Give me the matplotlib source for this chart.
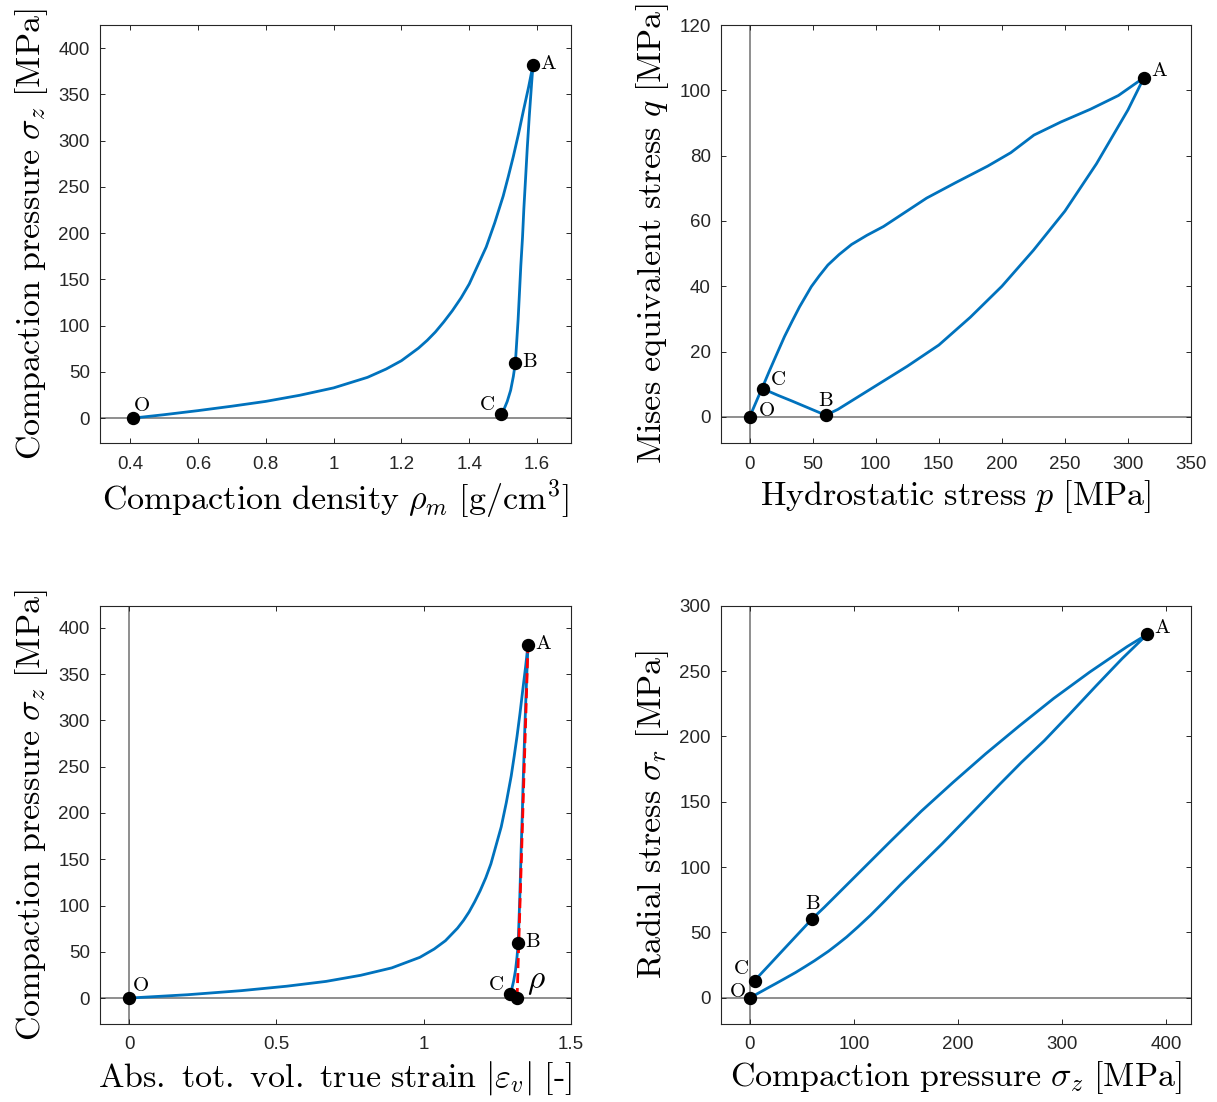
import numpy as np
import matplotlib
matplotlib.use('Agg')
import matplotlib.pyplot as plt

plt.rcParams['font.family'] = ['Liberation Sans', 'DejaVu Sans']
plt.rcParams['mathtext.fontset'] = 'cm'

# loading branch O -> A
sigma_z_load = [0, 3.6, 8, 12.8, 18, 24.6, 32.6, 44, 53, 62, 75.5, 84, 93, 104, 116, 130, 145,
                185, 211, 240, 261, 283, 307, 333, 358, 382]
sigma_r_load = [0, 1.57, 3.5, 5.6, 7.9, 10.75, 14.3, 19.4, 23.8, 28.3, 35.6, 40.8, 46.5, 54.3,
                63.2, 74.4, 86.7, 118, 139.3, 163.2, 180.1, 196.7, 216.7, 238.8, 259.6, 278.1]
rho_load = [0.41, 0.5, 0.6, 0.7, 0.8, 0.9, 1.0, 1.1, 1.155, 1.2, 1.25, 1.276, 1.3, 1.325, 1.35,
            1.376, 1.4, 1.45, 1.475, 1.5, 1.515, 1.53, 1.545, 1.56, 1.575, 1.588]

# unloading branch A -> B -> C
sigma_z_unload = [382, 362.7, 326.7, 292, 259, 226.7, 195.3, 164.7, 135.3, 106.3, 83.1, 71.5, 60,
                  45, 30, 18, 10, 4.6]
sigma_r_unload = [278.1, 268.7, 249.2, 229, 208, 186.7, 164.8, 142.7, 119.8, 96.8, 78.4, 69.2, 60.5,
                  47.7, 34.9, 24.6, 17.8, 13.2]
rho_unload = [1.588, 1.584, 1.577, 1.571, 1.566, 1.561, 1.557, 1.552, 1.548, 1.544, 1.540, 1.538,
              1.536, 1.530, 1.522, 1.512, 1.503, 1.493]

rho_0 = 0.41
eps_rho = 1.317  # strain at the rho point on the zero-pressure axis

BLUE = '#0072BD'
FRAME = '#262626'
ZERO = '#707070'


def derived(sz, sr, rho):
    sz = np.asarray(sz)
    sr = np.asarray(sr)
    p = (sz + 2 * sr) / 3
    q = np.abs(sz - sr)
    eps = np.log(np.asarray(rho) / rho_0)
    return p, q, eps


p_l, q_l, eps_l = derived(sigma_z_load, sigma_r_load, rho_load)
p_u, q_u, eps_u = derived(sigma_z_unload, sigma_r_unload, rho_unload)

# marked states in the unloading arrays
iA, iB, iC = 0, 12, len(sigma_z_unload) - 1


def style_axes(ax, xlim, ylim, xticks, yticks):
    ax.set_xlim(xlim)
    ax.set_ylim(ylim)
    ax.set_xticks(xticks)
    ax.set_yticks(yticks)
    ax.set_xticklabels([f'{v:g}' for v in xticks])
    ax.set_yticklabels([f'{v:g}' for v in yticks])
    ax.tick_params(direction='in', length=3.6, width=0.7, colors=FRAME,
                   labelsize=13.5, top=True, right=True)
    ax.tick_params(axis='x', pad=9)
    ax.tick_params(axis='y', pad=7)
    for s in ax.spines.values():
        s.set_color(FRAME)
        s.set_linewidth(0.8)
    ax.axhline(0, color=ZERO, lw=1.1, zorder=1)
    if xlim[0] < 0:
        ax.axvline(0, color=ZERO, lw=1.1, zorder=1)


def mark(ax, x, y, text, dx, dy, ha='left', va='bottom', fs=15):
    ax.plot([x], [y], 'o', color='k', ms=8.6, zorder=5)
    ax.annotate(text, (x, y), xytext=(dx, dy), textcoords='offset points',
                ha=ha, va=va, fontsize=fs, zorder=6)


fig = plt.figure(figsize=(12.17, 11.02), dpi=100)
ax1 = fig.add_axes([0.0818, 0.598, 0.3874, 0.3793])
ax2 = fig.add_axes([0.5922, 0.598, 0.3864, 0.3793])
ax3 = fig.add_axes([0.0818, 0.0708, 0.3874, 0.3796])
ax4 = fig.add_axes([0.5922, 0.0708, 0.3864, 0.3796])

lab_fs = 24.5
ypad = 6

# density - pressure
ax1.plot(rho_load, sigma_z_load, color=BLUE, lw=2, zorder=3)
ax1.plot(rho_unload, sigma_z_unload, color=BLUE, lw=2, zorder=3)
style_axes(ax1, (0.31, 1.70), (-27, 425), [0.4, 0.6, 0.8, 1, 1.2, 1.4, 1.6], list(range(0, 401, 50)))
mark(ax1, rho_load[0], 0, r'$\mathrm{O}$', 0, 2, ha='left')
mark(ax1, rho_unload[iA], sigma_z_unload[iA], r'$\mathrm{A}$', 5, -6)
mark(ax1, rho_unload[iB], sigma_z_unload[iB], r'$\mathrm{B}$', 5, -6)
mark(ax1, rho_unload[iC], sigma_z_unload[iC], r'$\mathrm{C}$', -4, 0, ha='right')
ax1.set_xlabel(r'$\mathrm{Compaction\ density}\ \rho_m\ \mathrm{[g/cm^3]}$', fontsize=lab_fs)
ax1.set_ylabel(r'$\mathrm{Compaction\ pressure}\ \sigma_z\ \mathrm{[MPa]}$', fontsize=lab_fs, labelpad=ypad)

# p - q
ax2.plot(p_l, q_l, color=BLUE, lw=2, zorder=3)
ax2.plot(p_u, q_u, color=BLUE, lw=2, zorder=3)
style_axes(ax2, (-23, 350), (-8, 120), list(range(0, 351, 50)), list(range(0, 121, 20)))
mark(ax2, 0, 0, r'$\mathrm{O}$', 6, -2)
mark(ax2, p_u[iA], q_u[iA], r'$\mathrm{A}$', 5, -2)
mark(ax2, p_u[iB], q_u[iB], r'$\mathrm{B}$', 0, 4, ha='center')
mark(ax2, p_u[iC], q_u[iC], r'$\mathrm{C}$', 5, 0)
ax2.set_xlabel(r'$\mathrm{Hydrostatic\ stress}\ p\ \mathrm{[MPa]}$', fontsize=lab_fs)
ax2.set_ylabel(r'$\mathrm{Mises\ equivalent\ stress}\ q\ \mathrm{[MPa]}$', fontsize=lab_fs, labelpad=ypad)

# strain - pressure
ax3.plot(eps_l, sigma_z_load, color=BLUE, lw=2, zorder=3)
ax3.plot(eps_u, sigma_z_unload, color=BLUE, lw=2, zorder=3)
ax3.plot([eps_rho, eps_u[iA]], [0, sigma_z_unload[iA]], color='#FF0000', lw=2, ls=(0, (3.6, 1.8)), zorder=4)
style_axes(ax3, (-0.1, 1.5), (-28, 424), [0, 0.5, 1, 1.5], list(range(0, 401, 50)))
mark(ax3, 0, 0, r'$\mathrm{O}$', 2, 2)
mark(ax3, eps_u[iA], sigma_z_unload[iA], r'$\mathrm{A}$', 5, -6)
mark(ax3, eps_u[iB], sigma_z_unload[iB], r'$\mathrm{B}$', 5, -6)
mark(ax3, eps_u[iC], sigma_z_unload[iC], r'$\mathrm{C}$', -4, 0, ha='right')
mark(ax3, eps_rho, 0, r'$\rho$', 7, 1, fs=24)
ax3.set_xlabel(r'$\mathrm{Abs.\ tot.\ vol.\ true\ strain}\ |\varepsilon_v|\ \mathrm{[\text{-}]}$', fontsize=lab_fs)
ax3.set_ylabel(r'$\mathrm{Compaction\ pressure}\ \sigma_z\ \mathrm{[MPa]}$', fontsize=lab_fs, labelpad=ypad)

# axial - radial stress
ax4.plot(sigma_z_load, sigma_r_load, color=BLUE, lw=2, zorder=3)
ax4.plot(sigma_z_unload, sigma_r_unload, color=BLUE, lw=2, zorder=3)
style_axes(ax4, (-28, 424), (-20, 300), list(range(0, 401, 100)), list(range(0, 301, 50)))
mark(ax4, 0, 0, r'$\mathrm{O}$', -3, -2, ha='right')
mark(ax4, sigma_z_unload[iA], sigma_r_unload[iA], r'$\mathrm{A}$', 5, -2)
mark(ax4, sigma_z_unload[iB], sigma_r_unload[iB], r'$\mathrm{B}$', 0, 4, ha='center')
mark(ax4, sigma_z_unload[iC], sigma_r_unload[iC], r'$\mathrm{C}$', -4, 2, ha='right')
ax4.set_xlabel(r'$\mathrm{Compaction\ pressure}\ \sigma_z\ \mathrm{[MPa]}$', fontsize=lab_fs)
ax4.set_ylabel(r'$\mathrm{Radial\ stress}\ \sigma_r\ \mathrm{[MPa]}$', fontsize=lab_fs, labelpad=ypad)

fig.savefig('out.png', dpi=100)
